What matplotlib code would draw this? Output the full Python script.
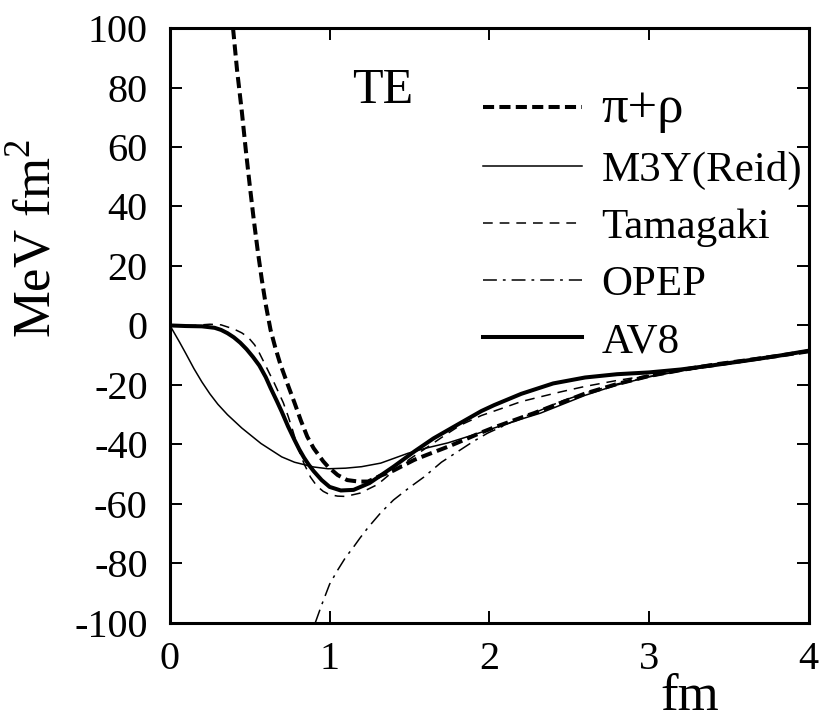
import numpy as np
import matplotlib
matplotlib.use("Agg")
import matplotlib.pyplot as plt

plt.rcParams['font.family'] = ['Liberation Serif', 'DejaVu Serif']
plt.rcParams['mathtext.fontset'] = 'custom'
plt.rcParams['mathtext.rm'] = 'Liberation Serif'
plt.rcParams['axes.unicode_minus'] = False
plt.rcParams['lines.scale_dashes'] = False

# potenciais tensoriais TE
x_pr = [0.395, 0.42, 0.45, 0.475, 0.5, 0.525, 0.55, 0.575, 0.6, 0.63, 0.66, 0.69, 0.735, 0.78, 0.82, 0.86,
        0.9, 0.93, 0.96, 0.99, 1.05, 1.11, 1.18, 1.24, 1.32, 1.4, 1.53, 1.61, 1.74, 1.82, 1.95, 2.03, 2.2,
        2.28, 2.4, 2.6, 2.8, 3.0, 3.2, 3.43, 3.6, 3.8, 4.0]
y_pr = [100, 86, 72, 59, 47, 35.5, 25, 15.5, 7, -1.5, -7.5, -12.8, -19.5, -26, -32, -37.4,
        -41.3, -43.5, -45.7, -47.5, -50.3, -52, -52.5, -52.5, -50.5, -48.8, -45.2, -43.5, -40.8, -39, -36, -34.3, -31,
        -29.5, -27, -22.9, -19.7, -17, -15, -13, -11.8, -10.3, -8.7]

x_m3y = [0, 0.03, 0.06, 0.1, 0.15, 0.2, 0.25, 0.3, 0.36, 0.45, 0.57, 0.7, 0.78, 0.9, 0.99, 1.1, 1.2, 1.32,
         1.49, 1.6, 1.74, 1.9, 2.03, 2.2, 2.32, 2.6, 2.8, 3.0, 3.2, 3.4, 3.6, 3.8, 4.0]
y_m3y = [0, -2.8, -5.6, -9.5, -14.5, -19, -23, -26.5, -30, -34.5, -39.7, -44.2, -46, -47.6, -48.2, -48, -47.5, -46.3,
         -43, -41.3, -39.5, -36.8, -34.5, -31.5, -29.5, -23.5, -20, -17.3, -15.3, -13.6, -12, -10.3, -8.7]

x_tam = [0, 0.15, 0.25, 0.32, 0.4, 0.45, 0.49, 0.53, 0.56, 0.59, 0.62, 0.65, 0.68, 0.71, 0.74, 0.77, 0.8,
         0.84, 0.88, 0.92, 0.96, 1.0, 1.05, 1.1, 1.19, 1.3, 1.4, 1.5, 1.61, 1.72, 1.82, 1.95, 2.1, 2.2,
         2.32, 2.45, 2.6, 2.8, 3.0, 3.2, 3.4, 3.6, 3.8, 4.0]
y_tam = [0, 0, 0.4, 0.2, -1.2, -2.5, -4, -6.5, -9.3, -12.5, -15.8, -19, -22.5, -26, -30.5, -35.5, -41,
         -46.5, -51, -54, -55.8, -56.9, -57.4, -57.5, -56.4, -53.5, -49, -45, -41, -37, -33.5, -30.3, -27.5, -25.6,
         -24, -22.3, -20.5, -18.5, -16.8, -15.2, -13.8, -12.2, -10.5, -8.7]

x_opep = [0.91, 0.95, 1.0, 1.05, 1.1, 1.15, 1.19, 1.24, 1.32, 1.4, 1.5, 1.59, 1.7, 1.82, 1.9, 1.99, 2.1,
          2.2, 2.3, 2.45, 2.6, 2.8, 3.0, 3.2, 3.4, 3.6, 3.8, 4.0]
y_opep = [-100, -94, -87, -82.3, -78, -74.5, -71.5, -68, -63, -58.7, -54.5, -51, -46, -41.8, -39, -36.2, -33.5,
          -31, -29, -25.5, -22.8, -19.7, -17.2, -15.2, -13.4, -11.9, -10.3, -8.8]

x_av8 = [0, 0.1, 0.2, 0.28, 0.32, 0.36, 0.4, 0.44, 0.48, 0.52, 0.56, 0.6, 0.63, 0.67, 0.7, 0.74, 0.78,
         0.81, 0.84, 0.87, 0.9, 0.95, 1.0, 1.07, 1.15, 1.25, 1.4, 1.53, 1.65, 1.78, 1.95, 2.03, 2.2, 2.4,
         2.6, 2.8, 3.0, 3.2, 3.4, 3.6, 3.8, 4.0]
y_av8 = [0, -0.2, -0.3, -0.8, -1.5, -2.6, -4, -5.8, -8, -10.6, -13.5, -17.4, -21, -25.5, -29, -34, -38.5,
         -41.7, -44.5, -46.9, -49, -52, -54.3, -55.5, -55.3, -53, -47.5, -42.4, -38, -34, -28.8, -26.8, -23, -19.5,
         -17.5, -16.4, -15.8, -14.8, -13.4, -11.9, -10.3, -8.5]

fig = plt.figure(figsize=(8.21, 7.2), dpi=100)
ax = fig.add_axes([0.207, 0.135, 0.778, 0.826])

ax.plot(x_pr, y_pr, color="k", lw=2.9, ls=(0, (8, 3.8)), label="π+ρ")
ax.plot(x_m3y, y_m3y, color="k", lw=1.1, label="M3Y(Reid)")
ax.plot(x_tam, y_tam, color="k", lw=1.1, ls=(0, (7, 5)), label="Tamagaki")
ax.plot(x_opep, y_opep, color="k", lw=1.1, ls=(0, (10, 4.3, 2, 4.3)), label="OPEP")
ax.plot(x_av8, y_av8, color="k", lw=2.9, label="AV8")

ax.set_xlim(0, 4)
ax.set_ylim(-100, 100)
ax.set_xticks([0, 1, 2, 3, 4])
ax.set_yticks(np.arange(-100, 101, 20))
ax.tick_params(direction="in", length=8.6, width=1.4, top=True, right=True, labelsize=29)
ax.tick_params(axis="x", pad=13)
ax.tick_params(axis="y", pad=16)
for s in ax.spines.values():
    s.set_linewidth(2.2)

ax.set_xlabel("fm", fontsize=38)
ax.xaxis.set_label_coords(0.814, -0.085)
ax.set_ylabel(r"MeV fm$^2$", fontsize=38)
ax.yaxis.set_label_coords(-0.17, 0.647)

ax.text(1.33, 79, "TE", fontsize=36, ha="center", va="center")

leg = ax.legend(loc="upper left", bbox_to_anchor=(0.49, 0.905), frameon=False, fontsize=31,
                handlelength=2.3, handletextpad=0.45, labelspacing=0.42, borderpad=0, borderaxespad=0)
leg.get_texts()[0].set_fontsize(38)

fig.savefig("out.png", dpi=100)
